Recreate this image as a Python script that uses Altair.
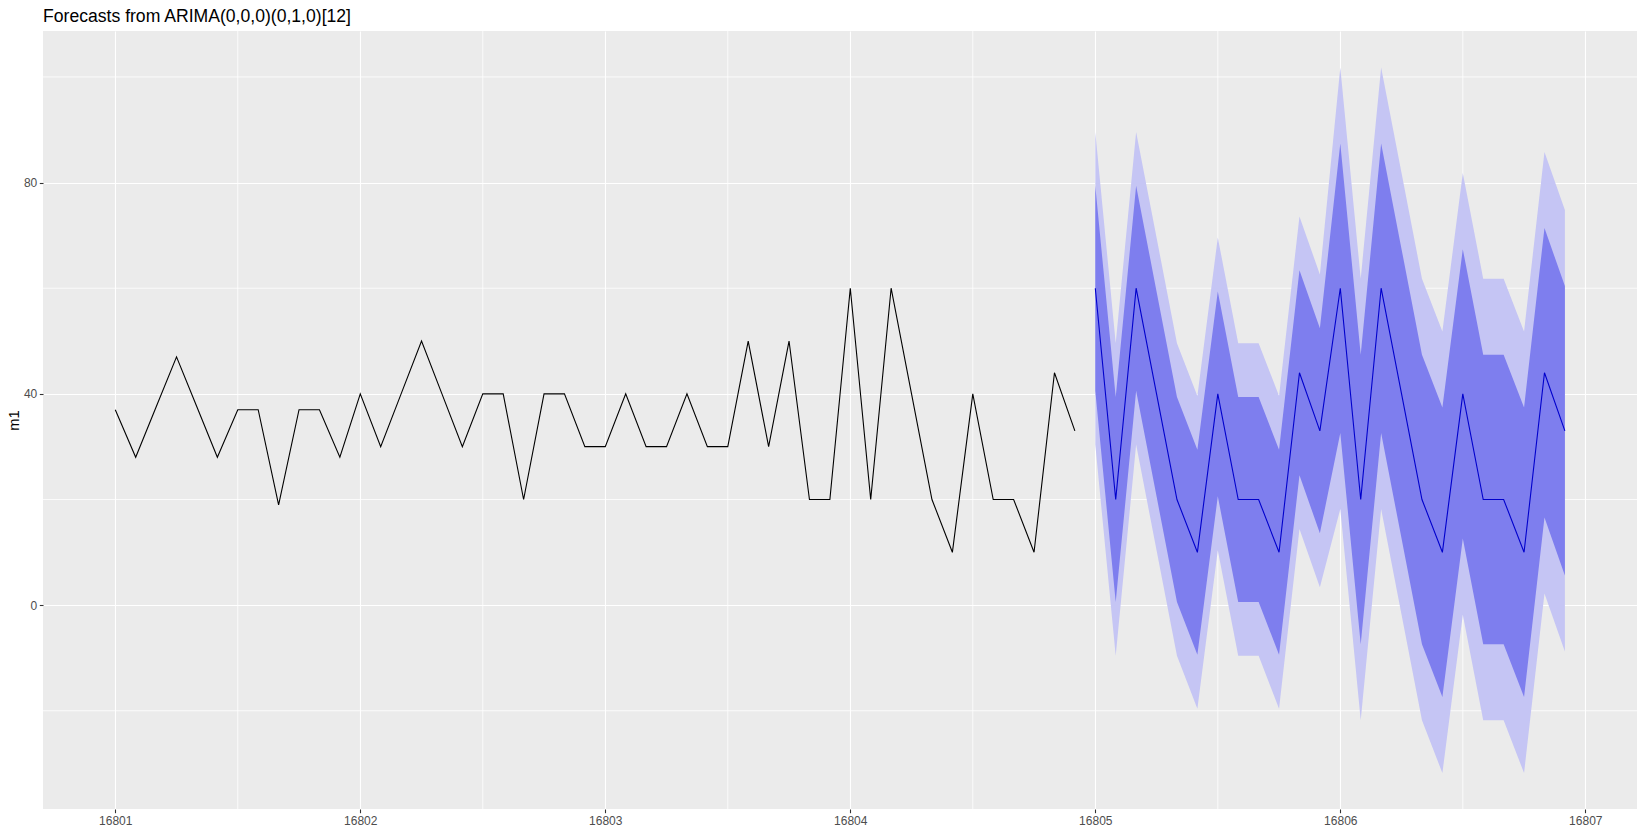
import altair as alt
import pandas as pd

# ---- data ----
start_year = 16801
hist_values = [
    37, 28, 37.5, 47, 37.5, 28, 37, 37, 19, 37, 37, 28,   # 16801
    40, 30, 40, 50, 40, 30, 40, 40, 20, 40, 40, 30,       # 16802
    30, 40, 30, 30, 40, 30, 30, 50, 30, 50, 20, 20,       # 16803
    60, 20, 60, 40, 20, 10, 40, 20, 20, 10, 44, 33,       # 16804
]
fc_start = 16805
fc_mean = [60, 20, 60, 40, 20, 10, 40, 20, 20, 10, 44, 33,
           60, 20, 60, 40, 20, 10, 40, 20, 20, 10, 44, 33]
fc_lo80 = [40.6, 0.6, 40.6, 20.6, 0.6, -9.4, 20.6, 0.6, 0.6, -9.4, 24.6, 13.6,
           32.6, -7.4, 32.6, 12.6, -7.4, -17.4, 12.6, -7.4, -7.4, -17.4, 16.6, 5.6]
fc_hi80 = [79.4, 39.4, 79.4, 59.4, 39.4, 29.4, 59.4, 39.4, 39.4, 29.4, 63.4, 52.4,
           87.4, 47.4, 87.4, 67.4, 47.4, 37.4, 67.4, 47.4, 47.4, 37.4, 71.4, 60.4]
fc_lo95 = [30.4, -9.6, 30.4, 10.4, -9.6, -19.6, 10.4, -9.6, -9.6, -19.6, 14.4, 3.4,
           18.2, -21.8, 18.2, -1.8, -21.8, -31.8, -1.8, -21.8, -21.8, -31.8, 2.2, -8.8]
fc_hi95 = [89.6, 49.6, 89.6, 69.6, 49.6, 39.6, 69.6, 49.6, 49.6, 39.6, 73.6, 62.6,
           101.8, 61.8, 101.8, 81.8, 61.8, 51.8, 81.8, 61.8, 61.8, 51.8, 85.8, 74.8]

x_major = [16801, 16802, 16803, 16804, 16805, 16806, 16807]
x_minor = [16801.5, 16802.5, 16803.5, 16804.5, 16805.5, 16806.5]
y_major = [0, 40, 80]
y_minor = [-20, 20, 60, 100]

hist = pd.DataFrame({"t": [start_year + i / 12 for i in range(len(hist_values))],
                     "v": hist_values})
fc = pd.DataFrame({"t": [fc_start + i / 12 for i in range(len(fc_mean))],
                   "v": fc_mean, "lo80": fc_lo80, "hi80": fc_hi80,
                   "lo95": fc_lo95, "hi95": fc_hi95})
minx = pd.DataFrame({"v": x_minor})
miny = pd.DataFrame({"v": y_minor})

FONT = "Liberation Sans"
xscale = alt.Scale(domain=[16800.705, 16807.211], nice=False, zero=False)
yscale = alt.Scale(domain=[-38.6, 108.7], nice=False, zero=False)
xaxis = alt.Axis(values=x_major, format="d", grid=True, gridColor="white", gridWidth=1.1,
                 domain=False, tickColor="#333333", tickSize=3.7, tickWidth=1.1,
                 labelColor="#4D4D4D", labelFontSize=12, labelFont=FONT, labelPadding=2.5)
yaxis = alt.Axis(values=y_major, format="d", grid=True, gridColor="white", gridWidth=1.1,
                 domain=False, tickColor="#333333", tickSize=3.7, tickWidth=1.1,
                 labelColor="#4D4D4D", labelFontSize=12, labelFont=FONT, labelPadding=2.5,
                 titleFont=FONT, titleFontSize=14.7, titleFontWeight="normal",
                 titleColor="black", titleX=-24.5, titleY=389, titleBaseline="alphabetic",
                 titleAngle=270)


def X(field):
    return alt.X(f"{field}:Q", scale=xscale, axis=xaxis, title="")


def Y(field):
    return alt.Y(f"{field}:Q", scale=yscale, axis=yaxis, title="m1")


rx = alt.Chart(minx).mark_rule(color="white", strokeWidth=0.8).encode(x=X("v"))
ry = alt.Chart(miny).mark_rule(color="white", strokeWidth=0.8).encode(y=Y("v"))
a95 = alt.Chart(fc).mark_area(color="#C5C5F4", opacity=1).encode(
    x=X("t"), y=Y("lo95"), y2="hi95")
a80 = alt.Chart(fc).mark_area(color="#7E7EEE", opacity=1).encode(
    x=X("t"), y=Y("lo80"), y2="hi80")
lh = alt.Chart(hist).mark_line(color="black", strokeWidth=1.1).encode(x=X("t"), y=Y("v"))
lf = alt.Chart(fc).mark_line(color="#0000CC", strokeWidth=1.1).encode(x=X("t"), y=Y("v"))

chart = alt.layer(rx, ry, a95, a80, lh, lf).properties(
    width=1594, height=778,
    background="white",
    autosize=alt.AutoSizeParams(type="none"),
    padding={"left": 35, "top": 23, "right": 7, "bottom": 19},
    title=alt.Title("Forecasts from ARIMA(0,0,0)(0,1,0)[12]", anchor="start", frame="group",
                    font=FONT, fontSize=17.6, fontWeight="normal", color="black",
                    baseline="top", offset=4.8),
).configure_view(fill="#EBEBEB", strokeWidth=0)

chart.save("out.html", embed_options={"renderer": "svg", "actions": False})
